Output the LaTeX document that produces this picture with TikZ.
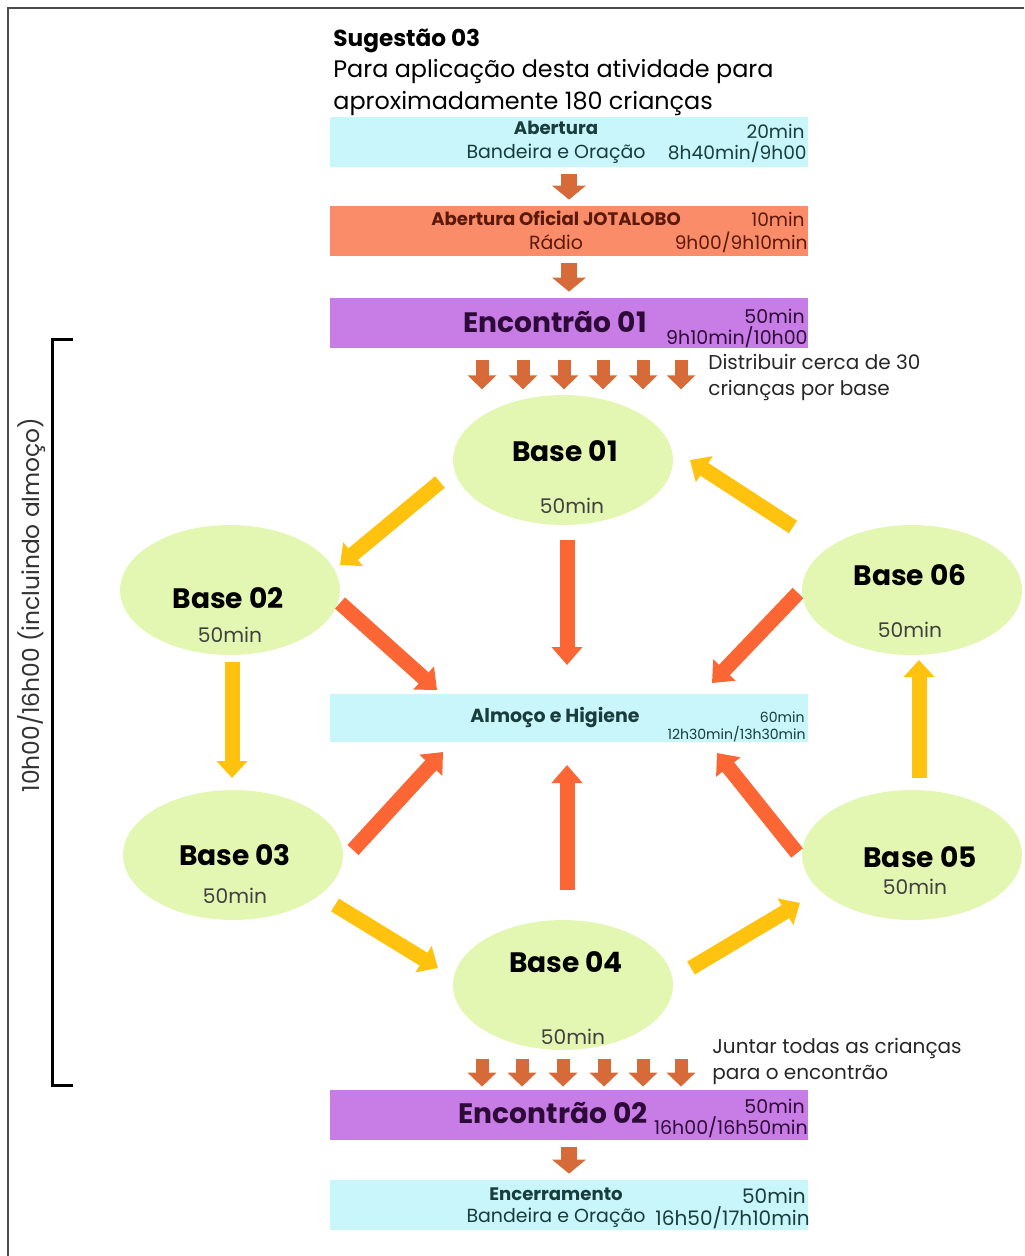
\documentclass[tikz,border=0pt]{standalone}
\usepackage{fontspec}
\setmainfont{Poppins}
\usetikzlibrary{arrows.meta,shapes.geometric,positioning,calc}
\definecolor{boxcyan}{RGB}{200,246,250}
\definecolor{boxsalmon}{RGB}{250,140,105}
\definecolor{boxpurple}{RGB}{200,125,230}
\definecolor{basegreen}{RGB}{228,247,178}
\definecolor{arrbrown}{RGB}{214,106,56}
\definecolor{arryellow}{RGB}{255,195,15}
\definecolor{arrred}{RGB}{252,102,52}
\definecolor{txtteal}{RGB}{25,60,60}
\definecolor{txtbrown}{RGB}{90,25,10}
\definecolor{txtpurple}{RGB}{45,10,55}
\begin{document}
\begin{tikzpicture}[x=0.02cm, y=-0.02cm, inner sep=0pt,
  box/.style={rectangle, minimum width=9.56cm, minimum height=1cm, inner sep=0pt},
  base/.style={ellipse, fill=basegreen, minimum width=4.4cm, minimum height=2.6cm},
  basettl/.style={font=\fontsize{16}{16}\selectfont\bfseries},
  basemin/.style={font=\fontsize{11.5}{12}\selectfont, text=black!75},
  boxttl/.style={font=\fontsize{10.3}{11}\selectfont\bfseries},
  boxsub/.style={font=\fontsize{10.8}{11}\selectfont},
  boxtime/.style={anchor=east, font=\fontsize{10.6}{11}\selectfont},
  enctime/.style={anchor=east, font=\fontsize{10.8}{11}\selectfont, text=txtpurple},
  bigttl/.style={font=\fontsize{16}{17}\selectfont\bfseries, text=txtpurple},
  note/.style={anchor=north west, align=left, font=\fontsize{11.4}{14.8}\selectfont, text=black!85},
  bigdown/.style={arrbrown, line width=0.32cm, -{Triangle[width=0.66cm,length=0.28cm]}, shorten <=0.14cm, shorten >=0.12cm},
  smalldown/.style={arrbrown, line width=0.26cm, -{Triangle[width=0.56cm,length=0.28cm]}},
  yarr/.style={arryellow, line width=0.3cm, -{Triangle[width=0.6cm,length=0.34cm]}},
  rarr/.style={arrred, line width=0.3cm, -{Triangle[width=0.6cm,length=0.36cm]}}]
\useasboundingbox (0,0) rectangle (1024,1256);
\draw[gray!60!black, line width=0.05cm] (8,1256) -- (8,8) -- (1024,8);

% heading
\node[anchor=base west, font=\fontsize{13.2}{14}\selectfont\bfseries] (title) at (333,47) {Sugestão 03};
\node[anchor=base west, font=\fontsize{13.6}{14}\selectfont] (introa) at (333,78) {Para aplicação desta atividade para};
\node[anchor=base west, font=\fontsize{13.6}{14}\selectfont] (introb) at (333,110) {aproximadamente 180 crianças};

% timeline boxes
\draw
  node at (569,142)[box, fill=boxcyan](open){}
  node at (569,231)[box, fill=boxsalmon](off){}
  node at (569,323)[box, fill=boxpurple](enca){}
  node at (569,718)[box, fill=boxcyan, minimum height=0.96cm](lunch){}
  node at (569,1115)[box, fill=boxpurple](encb){}
  node at (569,1205)[box, fill=boxcyan](close){};

\node[boxttl, text=txtteal] (openttl) at (556,128) {Abertura};
\node[boxsub, text=txtteal] (opensub) at (556,154) {Bandeira e Oração};
\node[boxtime, text=txtteal] (opentime) at (805,131) {20min};
\node[boxtime, text=txtteal] (openhour) at (807,152) {8h40min/9h00};

\node[boxttl, text=txtbrown] (offttl) at (556,218) {Abertura Oficial JOTALOBO};
\node[boxsub, text=txtbrown] (offsub) at (556,242) {Rádio};
\node[boxtime, text=txtbrown] (offtime) at (805,219) {10min};
\node[boxtime, text=txtbrown] (offhour) at (808,242) {9h00/9h10min};

\node[bigttl] (encattl) at (555,322) {Encontrão 01};
\node[enctime] (encatime) at (805,316) {50min};
\node[enctime] (encahour) at (808,337) {9h10min/10h00};

\node[font=\fontsize{10.8}{11}\selectfont\bfseries, text=txtteal] (lunchttl) at (555,718) {Almoço e Higiene};
\node[anchor=east, font=\fontsize{8}{9}\selectfont, text=txtteal] (lunchtime) at (805,717) {60min};
\node[anchor=east, font=\fontsize{8}{9}\selectfont, text=txtteal] (lunchhour) at (806,734) {12h30min/13h30min};

\node[bigttl] (encbttl) at (553,1113) {Encontrão 02};
\node[enctime] (encbtime) at (805,1106) {50min};
\node[enctime] (encbhour) at (808,1127) {16h00/16h50min};

\node[boxttl, text=txtteal] (closettl) at (556,1194) {Encerramento};
\node[boxsub, text=txtteal] (closesub) at (556,1218) {Bandeira e Oração};
\node[enctime, text=txtteal, font=\fontsize{11.4}{12}\selectfont] (closetime) at (806,1196) {50min};
\node[enctime, text=txtteal, font=\fontsize{11.4}{12}\selectfont] (closehour) at (810,1218) {16h50/17h10min};

\draw[bigdown] (open.south) -- (off.north);
\draw[bigdown] (off.south) -- (enca.north);
\draw[bigdown] (encb.south) -- (close.north);

% split and gather
\foreach \dx in {-87,-46,-5,34,74,112}
  \draw[smalldown] ($(enca.south)+(\dx,12)$) -- ($(enca.south)+(\dx,41)$);
\foreach \dx in {-87,-47,-6,35,74,112}
  \draw[smalldown] ($(encb.north)+(\dx,-31)$) -- ($(encb.north)+(\dx,-3)$);
\node[note] (splitnote) at (708,354) {Distribuir cerca de 30\\crianças por base};
\node[note] (joinnote) at (712,1038) {Juntar todas as crianças\\para o encontrão};

% bases
\draw
  node at (563,460)[base](ba){}
  node at (230,590)[base](bb){}
  node at (233,855)[base](bc){}
  node at (563,985)[base](bd){}
  node at (912,855)[base](be){}
  node at (912,590)[base](bf){};

\node[basettl] (battl) at (565,451) {Base 01};
\node[basemin] (bamin) at (572,506) {50min};
\node[basettl] (bbttl) at (228,598) {Base 02};
\node[basemin] (bbmin) at (230,635) {50min};
\node[basettl] (bcttl) at (235,855) {Base 03};
\node[basemin] (bcmin) at (235,896) {50min};
\node[basettl] (bdttl) at (566,962) {Base 04};
\node[basemin] (bdmin) at (573,1037) {50min};
\node[basettl] (bettl) at (920,857) {Base 05};
\node[basemin] (bemin) at (915,887) {50min};
\node[basettl] (bfttl) at (910,575) {Base 06};
\node[basemin] (bfmin) at (910,630) {50min};

% rotation between bases
\draw[yarr] ($(ba)+(-123,22)$) -- ($(bb)+(110,-25)$);
\draw[yarr] ($(bb)+(2,72)$) -- ($(bc)+(-1,-77)$);
\draw[yarr] ($(bc)+(102,50)$) -- ($(bd)+(-125,-17)$);
\draw[yarr] ($(bd)+(128,-17)$) -- ($(be)+(-112,48)$);
\draw[yarr] ($(be)+(7,-77)$) -- ($(bf)+(7,70)$);
\draw[yarr] ($(bf)+(-119,-63)$) -- ($(ba)+(127,0)$);

% to lunch
\draw[rarr] ($(ba)+(4,80)$) -- ($(lunch)+(-2,-53)$);
\draw[rarr] ($(bb)+(110,13)$) -- ($(lunch)+(-132,-28)$);
\draw[rarr] ($(bf)+(-114,3)$) -- ($(lunch)+(143,-35)$);
\draw[rarr] ($(bc)+(120,-5)$) -- ($(lunch)+(-126,34)$);
\draw[rarr] ($(bd)+(4,-95)$) -- ($(lunch)+(-2,47)$);
\draw[rarr] ($(be)+(-115,-2)$) -- ($(lunch)+(148,35)$);

% period bracket
\draw[line width=0.06cm] (73,340) -- (52,340) -- (52,1085) -- (73,1085);
\node[rotate=90, font=\fontsize{13.3}{14}\selectfont, text=black!80] (span) at (32,605) {10h00/16h00 (incluindo almoço)};
\end{tikzpicture}
\end{document}
